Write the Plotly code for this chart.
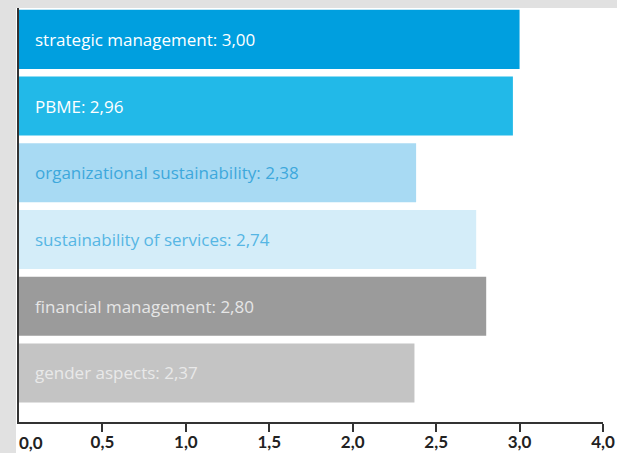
import plotly.graph_objects as go

# Scores per area, top to bottom
categories = [
    "strategic management",
    "PBME",
    "organizational sustainability",
    "sustainability of services",
    "financial management",
    "gender aspects",
]
scores = [3.00, 2.96, 2.38, 2.74, 2.80, 2.37]
value_labels = ["3,00", "2,96", "2,38", "2,74", "2,80", "2,37"]

bar_colors = ["#009FDF", "#22B9E8", "#A8DAF3", "#D4EDF9", "#9B9B9B", "#C4C4C4"]
text_colors = ["#FFFFFF", "#FFFFFF", "#3DA8DC", "#56B6E4", "#E6E6E6", "#E9E9E9"]

# The last tick sits where 3,5 would be but reads 4,0
tick_vals = [0.5, 1.0, 1.5, 2.0, 2.5, 3.0, 3.5]
tick_text = ["0,5", "1,0", "1,5", "2,0", "2,5", "3,0", "4,0"]

W, H = 617, 453
ml, mr, mt, mb = 19, 14, 8, 31

fig = go.Figure(
    go.Bar(
        x=scores,
        y=categories,
        orientation="h",
        width=0.885,
        marker=dict(color=bar_colors, line=dict(width=0)),
        hoverinfo="skip",
    )
)

annotations = []
for cat, lab, col in zip(categories, value_labels, text_colors):
    annotations.append(
        dict(
            x=0, y=cat, xref="x", yref="y",
            text=f"{cat}: {lab}",
            showarrow=False, xanchor="left", yanchor="middle",
            xshift=14,
            font=dict(family="Open Sans", size=17, color=col),
        )
    )

# "0,0" label sits just right of the axis origin
annotations.append(
    dict(
        x=0, y=0, xref="x", yref="paper",
        text="<b>0,0</b>", showarrow=False,
        xanchor="left", yanchor="middle", yshift=-20, xshift=-2,
        font=dict(family="Lato", size=17, color="#222222"),
    )
)

pw = W - ml - mr
ph = H - mt - mb
shapes = [
    # grey frame strips along the top and left edges
    dict(type="rect", xref="paper", yref="paper",
         x0=-ml / pw, x1=-3 / pw, y0=-mb / ph, y1=1 + mt / ph,
         fillcolor="#E1E1E1", line=dict(width=0), layer="below"),
    dict(type="rect", xref="paper", yref="paper",
         x0=-ml / pw, x1=1 + mr / pw, y0=1, y1=1 + mt / ph,
         fillcolor="#E1E1E1", line=dict(width=0), layer="below"),
]

fig.update_layout(
    width=W, height=H,
    autosize=False,
    margin=dict(l=ml, r=mr, t=mt, b=mb, pad=0, autoexpand=False),
    paper_bgcolor="#FFFFFF",
    plot_bgcolor="rgba(0,0,0,0)",
    showlegend=False,
    annotations=annotations,
    shapes=shapes,
    xaxis=dict(
        range=[0, 3.5],
        tickvals=tick_vals, ticktext=tick_text,
        ticks="outside", ticklen=8, tickwidth=1.5, tickcolor="#333333",
        showline=True, linecolor="#333333", linewidth=2,
        showgrid=False, zeroline=False,
        tickfont=dict(family="Lato", size=17, color="#222222", weight="bold"),
        ticklabelstandoff=-4,
        fixedrange=True,
    ),
    yaxis=dict(
        categoryorder="array", categoryarray=categories,
        range=[5.735, -0.47],
        showticklabels=False, ticks="",
        showline=True, linecolor="#333333", linewidth=2,
        showgrid=False, zeroline=False,
        layer="below traces",
        fixedrange=True,
    ),
)

fig.write_html(
    "out.html",
    config={"displayModeBar": False, "responsive": False},
    post_script="document.body.style.margin='0';document.body.style.overflow='hidden';",
)
